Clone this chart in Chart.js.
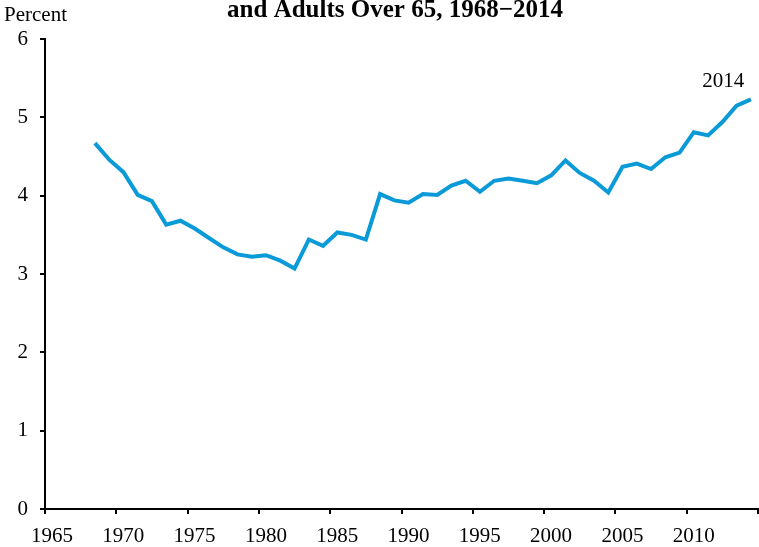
<!DOCTYPE html>
<html>
<head>
<meta charset="utf-8">
<script src="https://cdn.jsdelivr.net/npm/chart.js@4.4.0/dist/chart.umd.min.js"></script>
<style>
  html, body { margin: 0; padding: 0; background: #fff; }
  #wrap { width: 759px; height: 547px; position: relative; }
</style>
</head>
<body>
<div id="wrap"><canvas id="chart"></canvas></div>
<script>
const years = [
  1968, 1969, 1970, 1971, 1972, 1973, 1974, 1975, 1976, 1977,
  1978, 1979, 1980, 1981, 1982, 1983, 1984, 1985, 1986, 1987,
  1988, 1989, 1990, 1991, 1992, 1993, 1994, 1995, 1996, 1997,
  1998, 1999, 2000, 2001, 2002, 2003, 2004, 2005, 2006, 2007,
  2008, 2009, 2010, 2011, 2012, 2013, 2014
];
const percent = [
  4.67, 4.46, 4.30, 4.01, 3.93, 3.63, 3.68, 3.58, 3.46, 3.34,
  3.25, 3.22, 3.24, 3.17, 3.07, 3.44, 3.36, 3.53, 3.50, 3.44,
  4.02, 3.94, 3.91, 4.02, 4.01, 4.13, 4.19, 4.05, 4.19, 4.22,
  4.19, 4.16, 4.26, 4.45, 4.29, 4.19, 4.04, 4.37, 4.41, 4.34,
  4.49, 4.55, 4.81, 4.77, 4.94, 5.15, 5.23
];
const xTicks = [1965, 1970, 1975, 1980, 1985, 1990, 1995, 2000, 2005, 2010, 2015];
const yTicks = [0, 1, 2, 3, 4, 5, 6];

const titleText = 'and Adults Over 65, 1968\u22122014';
const unitText = 'Percent';
const endLabel = '2014';

const serif = '"Liberation Serif", "Times New Roman", serif';
const lineBlue = '#0a9ad8';

// annual values sit in the middle of each year
const points = years.map((y, i) => ({ x: y + 0.5, y: percent[i] }));

const textPlugin = {
  id: 'textPlugin',
  afterDraw(chart) {
    const ctx = chart.ctx;
    ctx.save();
    ctx.fillStyle = '#000';
    ctx.textBaseline = 'alphabetic';
    ctx.font = 'bold 25px ' + serif;
    ctx.textAlign = 'center';
    ctx.fillText(titleText, 395, 17);
    ctx.font = '21px ' + serif;
    ctx.textAlign = 'left';
    ctx.fillText(unitText, 4, 21);
    const last = chart.getDatasetMeta(0).data[years.length - 1];
    ctx.textAlign = 'center';
    ctx.fillText(endLabel, last.x - 27.5, last.y - 12);
    ctx.restore();
  }
};

new Chart(document.getElementById('chart'), {
  type: 'line',
  data: {
    datasets: [{
      data: points,
      borderColor: lineBlue,
      borderWidth: 4,
      pointRadius: 0,
      tension: 0,
      fill: false
    }]
  },
  options: {
    responsive: true,
    maintainAspectRatio: false,
    animation: false,
    layout: { padding: { top: 39, right: 1, left: 0, bottom: 0 } },
    plugins: {
      legend: { display: false },
      tooltip: { enabled: false },
      title: { display: false }
    },
    scales: {
      x: {
        type: 'linear',
        min: 1965,
        max: 2015,
        afterBuildTicks: axis => { axis.ticks = xTicks.map(v => ({ value: v })); },
        afterFit: axis => {
          axis.height = 38;
          axis.paddingLeft = 0;
          axis.paddingRight = 0;
        },
        ticks: {
          callback: v => (v === 2015 ? '' : String(v)),
          font: { family: serif, size: 21 },
          color: '#000',
          padding: 10,
          maxRotation: 0,
          autoSkip: false,
          labelOffset: 7
        },
        grid: { display: true, drawOnChartArea: false, drawTicks: true, tickLength: 5, color: '#000', lineWidth: 2 },
        border: { display: true, color: '#000', width: 2 }
      },
      y: {
        min: 0,
        max: 6,
        afterBuildTicks: axis => { axis.ticks = yTicks.map(v => ({ value: v })); },
        afterFit: axis => {
          axis.width = 45;
          axis.paddingTop = 0;
          axis.paddingBottom = 0;
        },
        ticks: {
          font: { family: serif, size: 21 },
          color: '#000',
          padding: 12
        },
        grid: { display: true, drawOnChartArea: false, drawTicks: true, tickLength: 5, color: '#000', lineWidth: 2 },
        border: { display: true, color: '#000', width: 2 }
      }
    }
  },
  plugins: [textPlugin]
});
</script>
</body>
</html>
